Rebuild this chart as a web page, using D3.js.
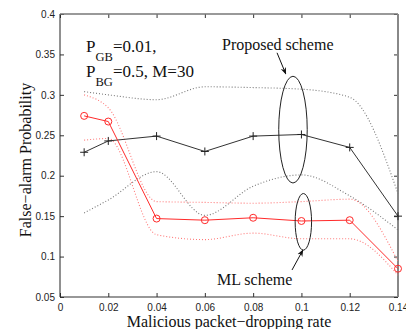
<!DOCTYPE html>
<html>
<head>
  <title>False-alarm probability vs dropping rate</title>
  <script src="https://d3js.org/d3.v7.min.js"></script>
  <style>
    body { margin: 0; background: #fff; }
    .tick text { font-family: "Liberation Sans", Arial, sans-serif; font-size: 10px; fill: #222; }
    .lbl { font-family: "Liberation Serif", "Times New Roman", serif; fill: #111; }
  </style>
</head>
<body>
  <svg id="screen"></svg>

  <script>
    // malicious packet-dropping rate
    const rates = [0.01, 0.02, 0.04, 0.06, 0.08, 0.1, 0.12, 0.14]

    // proposed scheme (black) with its dotted bounds
    const proposed      = [0.229, 0.243, 0.249, 0.230, 0.249, 0.251, 0.235, 0.150]
    const proposedUpper = [0.304, 0.300, 0.294, 0.310, 0.309, 0.307, 0.297, 0.178]
    const proposedLower = [0.154, 0.170, 0.205, 0.151, 0.187, 0.201, 0.175, 0.133]

    // ML scheme (red) with its dotted bounds
    const mlScheme = [0.274, 0.267, 0.147, 0.145, 0.148, 0.144, 0.145, 0.085]
    const mlUpper  = [0.300, 0.284, 0.168, 0.167, 0.166, 0.168, 0.171, 0.094]
    const mlLower  = [0.244, 0.246, 0.127, 0.121, 0.129, 0.122, 0.122, 0.077]

    const xTicks = [0, 0.02, 0.04, 0.06, 0.08, 0.1, 0.12, 0.14]
    const xTickLabels = ["0", "0.02", "0.04", "0.06", "0.08", "0.1", "0.12", "0.14"]
    const yTicks = [0.05, 0.1, 0.15, 0.2, 0.25, 0.3, 0.35, 0.4]
    const yTickLabels = ["0.05", "0.1", "0.15", "0.2", "0.25", "0.3", "0.35", "0.4"]

    let svg = {width: 406, height: 329}
    let margin = {top: 14, bottom: 32, left: 60, right: 8}
    let w = svg.width - margin.left - margin.right
    let h = svg.height - margin.top - margin.bottom

    let frame = d3.select('#screen')
      .attr("width", svg.width)
      .attr("height", svg.height)

    let g = frame.append("g")
      .attr("transform", `translate(${margin.left},${margin.top})`)

    let x = d3.scaleLinear().domain([0, 0.14]).range([0, w])
    let y = d3.scaleLinear().domain([0.05, 0.4]).range([h, 0])

    // axes, ticks pointing inward like matlab
    g.append("g").attr("transform", `translate(0,${h})`)
      .call(d3.axisBottom(x).tickValues(xTicks).tickSize(-4).tickSizeOuter(0).tickPadding(7)
        .tickFormat((d, i) => xTickLabels[i]))
    g.append("g")
      .call(d3.axisLeft(y).tickValues(yTicks).tickSize(-4).tickSizeOuter(0).tickPadding(5)
        .tickFormat((d, i) => yTickLabels[i]))
    g.append("g")
      .call(d3.axisTop(x).tickValues(xTicks).tickSize(-4).tickSizeOuter(0).tickFormat(""))
    g.append("g").attr("transform", `translate(${w},0)`)
      .call(d3.axisRight(y).tickValues(yTicks).tickSize(-4).tickSizeOuter(0).tickFormat(""))

    g.selectAll(".domain").remove()
    g.selectAll(".tick line").attr("stroke", "#333")

    // box
    g.append("line").attr("x1", 0).attr("x2", 0).attr("y1", 0).attr("y2", h)
      .attr("stroke", "#222").attr("stroke-width", 1)
    g.append("line").attr("x1", 0).attr("x2", w).attr("y1", h).attr("y2", h)
      .attr("stroke", "#333").attr("stroke-width", 1.2)
    g.append("line").attr("x1", 0).attr("x2", w).attr("y1", 0).attr("y2", 0)
      .attr("stroke", "#777").attr("stroke-width", 1.3)
    g.append("line").attr("x1", w).attr("x2", w).attr("y1", 0).attr("y2", h)
      .attr("stroke", "#888").attr("stroke-width", 2)

    const lineFor = (vals, curve) => d3.line()
      .x((d, i) => x(rates[i]))
      .y(d => y(d))
      .curve(curve)(vals)

    // dotted bounds
    const dotted = [
      [proposedUpper, "#777"], [proposedLower, "#777"],
      [mlUpper, "#ff7a7a"], [mlLower, "#ff7a7a"]
    ]
    dotted.forEach(([vals, col]) => {
      g.append("path")
        .attr("d", lineFor(vals, d3.curveMonotoneX))
        .attr("fill", "none")
        .attr("stroke", col)
        .attr("stroke-width", 1.1)
        .attr("stroke-dasharray", "1,2")
    })

    // proposed scheme
    g.append("path")
      .attr("d", lineFor(proposed, d3.curveLinear))
      .attr("fill", "none").attr("stroke", "#333").attr("stroke-width", 1)
    g.selectAll(".plus").data(proposed).enter().append("path")
      .attr("class", "plus")
      .attr("d", (d, i) => {
        let cx = x(rates[i]), cy = y(d)
        return `M${cx - 4},${cy}H${cx + 4}M${cx},${cy - 4}V${cy + 4}`
      })
      .attr("stroke", "#222").attr("stroke-width", 1)

    // ML scheme
    g.append("path")
      .attr("d", lineFor(mlScheme, d3.curveLinear))
      .attr("fill", "none").attr("stroke", "#ff2a2a").attr("stroke-width", 1)
    g.selectAll(".circ").data(mlScheme).enter().append("circle")
      .attr("class", "circ")
      .attr("cx", (d, i) => x(rates[i]))
      .attr("cy", d => y(d))
      .attr("r", 3.5)
      .attr("fill", "none").attr("stroke", "#ff2a2a").attr("stroke-width", 1)

    // annotations (in data units)
    const ellipses = [
      {cx: 0.0965, cy: 0.257, rx: 0.0059, ry: 0.066},
      {cx: 0.1008, cy: 0.143, rx: 0.0034, ry: 0.035}
    ]
    ellipses.forEach(e => {
      g.append("ellipse")
        .attr("cx", x(e.cx)).attr("cy", y(e.cy))
        .attr("rx", x(e.rx) - x(0)).attr("ry", y(0) - y(e.ry))
        .attr("fill", "none").attr("stroke", "#222").attr("stroke-width", 1)
    })

    frame.append("defs").append("marker")
      .attr("id", "head").attr("viewBox", "0 0 10 10")
      .attr("refX", 9).attr("refY", 5)
      .attr("markerWidth", 7).attr("markerHeight", 7)
      .attr("orient", "auto")
      .append("path").attr("d", "M0,1L10,5L0,9L3,5Z").attr("fill", "#111")

    const arrows = [
      {x1: 0.0899, y1: 0.352, x2: 0.0935, y2: 0.326},
      {x1: 0.0961, y1: 0.0834, x2: 0.1006, y2: 0.108}
    ]
    arrows.forEach(a => {
      g.append("line")
        .attr("x1", x(a.x1)).attr("y1", y(a.y1))
        .attr("x2", x(a.x2)).attr("y2", y(a.y2))
        .attr("stroke", "#111").attr("stroke-width", 1)
        .attr("marker-end", "url(#head)")
    })

    g.append("text").attr("class", "lbl")
      .attr("x", x(0.0671)).attr("y", y(0.355))
      .style("font-size", "16px")
      .text("Proposed scheme")
    g.append("text").attr("class", "lbl")
      .attr("x", x(0.065)).attr("y", y(0.0648))
      .style("font-size", "16px")
      .text("ML scheme")

    // parameter text with subscripts
    let p1 = g.append("text").attr("class", "lbl")
      .attr("x", x(0.0108)).attr("y", y(0.353)).style("font-size", "17px")
    p1.append("tspan").text("P")
    p1.append("tspan").attr("dy", 9).style("font-size", "12.5px").text("GB")
    p1.append("tspan").attr("dy", -9).text("=0.01,")

    let p2 = g.append("text").attr("class", "lbl")
      .attr("x", x(0.0108)).attr("y", y(0.322)).style("font-size", "17px")
    p2.append("tspan").text("P")
    p2.append("tspan").attr("dy", 9).style("font-size", "12.5px").text("BG")
    p2.append("tspan").attr("dy", -9).text("=0.5, M=30")

    // axis titles
    frame.append("text").attr("class", "lbl")
      .attr("x", margin.left + w / 2).attr("y", 327)
      .attr("text-anchor", "middle").style("font-size", "16px")
      .text("Malicious packet\u2212dropping rate")
    frame.append("text").attr("class", "lbl")
      .attr("transform", "translate(31,160) rotate(-90)")
      .attr("text-anchor", "middle").style("font-size", "16px")
      .text("False\u2212alarm Probability")
  </script>
</body>
</html>
